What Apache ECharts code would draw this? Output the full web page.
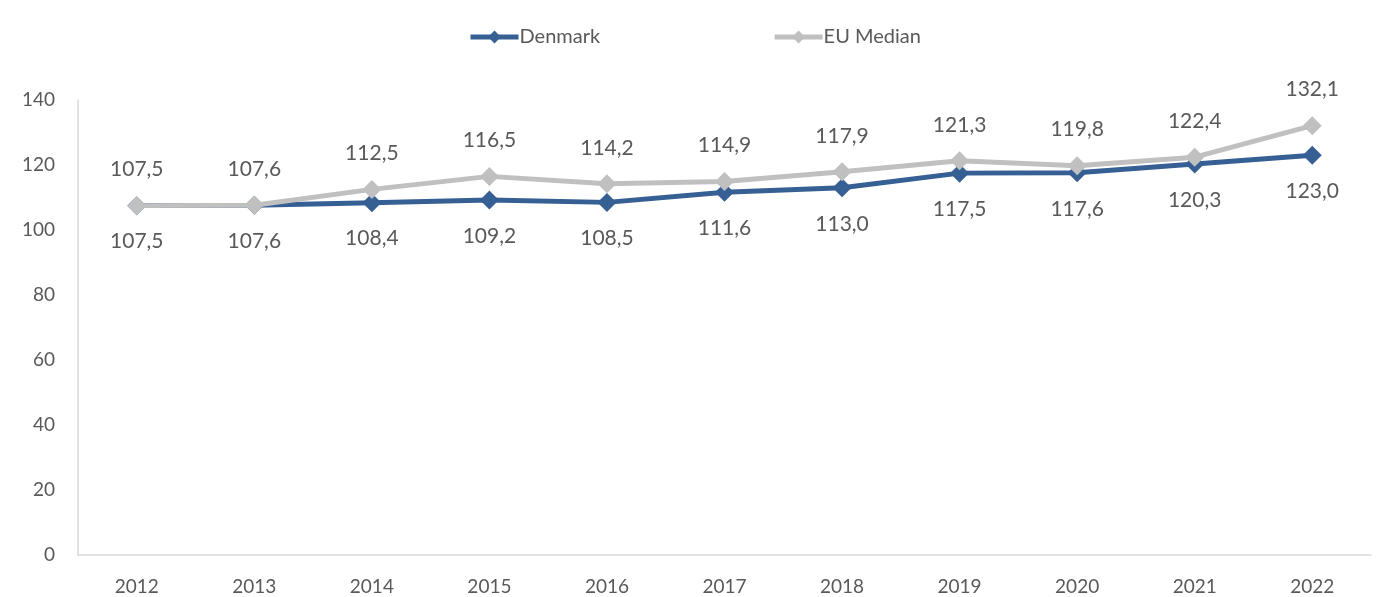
<!DOCTYPE html>
<html>
<head>
<meta charset="utf-8">
<script src="https://cdn.jsdelivr.net/npm/echarts@6/dist/echarts.min.js"></script>
<style>
html, body { margin: 0; padding: 0; background: #fff; }
#chart { width: 1376px; height: 597px; }
</style>
</head>
<body>
<div id="chart"></div>
<script>
const years = ['2012', '2013', '2014', '2015', '2016', '2017', '2018', '2019', '2020', '2021', '2022'];
const denmark = [107.5, 107.6, 108.4, 109.2, 108.5, 111.6, 113.0, 117.5, 117.6, 120.3, 123.0];
const euMedian = [107.5, 107.6, 112.5, 116.5, 114.2, 114.9, 117.9, 121.3, 119.8, 122.4, 132.1];

const txt = '#595959';
const font = 'Lato, "Open Sans", sans-serif';

function fmt(p) {
    return p.value.toFixed(1).replace('.', ',');
}

let chart = echarts.init(document.getElementById('chart'));
let option = {
    animation: false,
    textStyle: { fontFamily: font },
    legend: {
        top: 22,
        left: 463,
        itemWidth: 48,
        itemHeight: 16,
        itemGap: 172,
        lineStyle: { width: 5 },
        textStyle: { color: txt, fontSize: 20, fontFamily: font, padding: [0, 0, 0, -4] },
        data: ['Denmark', 'EU Median']
    },
    grid: { left: 78, right: 5, top: 100, bottom: 42 },
    xAxis: {
        type: 'category',
        data: years,
        boundaryGap: true,
        axisLine: { lineStyle: { color: '#d9d9d9', width: 1.5 } },
        axisTick: { show: false },
        axisLabel: { color: txt, fontSize: 19, margin: 22 }
    },
    yAxis: {
        type: 'value',
        min: 0, max: 140, interval: 20,
        splitLine: { show: false },
        axisLine: { show: true, lineStyle: { color: '#d9d9d9', width: 1.5 } },
        axisLabel: { color: txt, fontSize: 19, margin: 23 }
    },
    series: [
        {
            name: 'Denmark',
            type: 'line',
            data: denmark,
            symbol: 'diamond',
            symbolSize: 19,
            z: 3,
            itemStyle: { color: '#365f94' },
            lineStyle: { width: 5, color: '#365f94' },
            label: { show: true, position: 'bottom', distance: 16, color: txt, fontSize: 21, formatter: fmt }
        },
        {
            name: 'EU Median',
            type: 'line',
            data: euMedian,
            symbol: 'diamond',
            symbolSize: 19,
            z: 4,
            itemStyle: { color: '#c0c0c0' },
            lineStyle: { width: 5, color: '#c0c0c0' },
            label: { show: true, position: 'top', distance: 16, color: txt, fontSize: 21, formatter: fmt }
        }
    ]
};
chart.setOption(option);
</script>
</body>
</html>
